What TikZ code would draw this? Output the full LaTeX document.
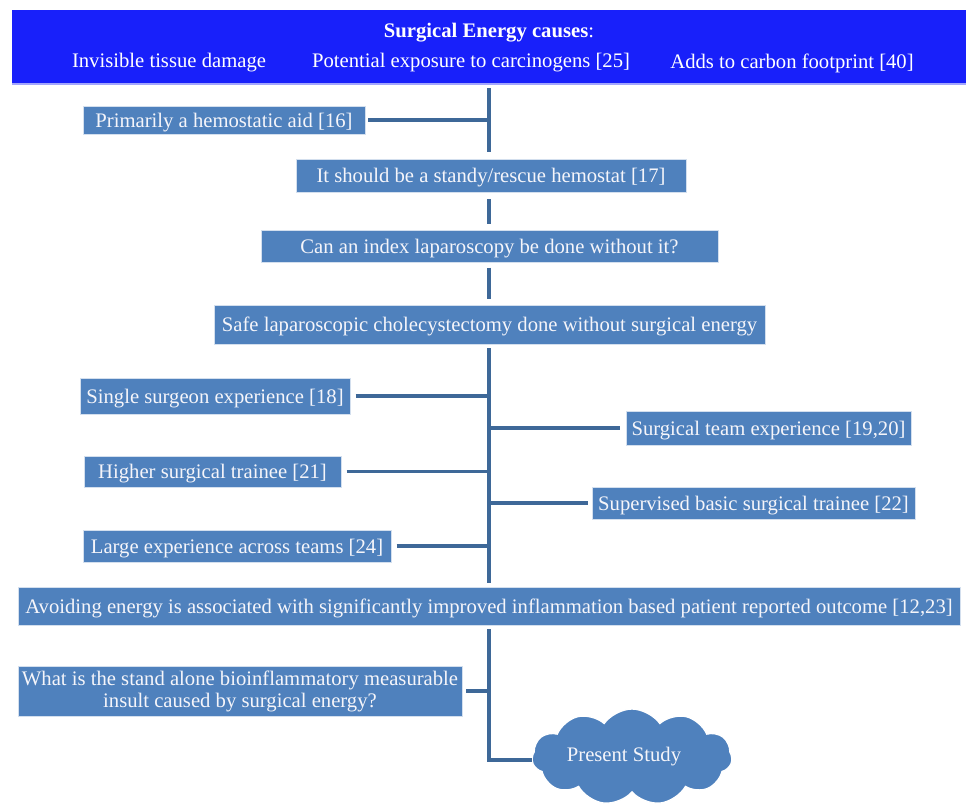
\documentclass[tikz,border=0pt]{standalone}
\usepackage{fontspec}
\setmainfont{Liberation Serif}
\usetikzlibrary{shapes.symbols}
\definecolor{boxblue}{RGB}{79,129,189}
\definecolor{bannerblue}{RGB}{24,32,250}
\definecolor{linkblue}{RGB}{62,104,152}
\definecolor{txt}{RGB}{245,245,250}
\begin{document}
\begin{tikzpicture}[x=0.75pt,y=-0.75pt,
  box/.style={fill=boxblue,draw=white!75!boxblue,line width=0.6pt,text=txt,inner sep=0pt,font=\fontsize{15.5}{18}\selectfont,align=center},
  ban/.style={text=white,font=\fontsize{15.5}{18}\selectfont},
  link/.style={draw=linkblue,line width=2.6pt}]
\useasboundingbox (0,0) rectangle (966,807);
\coordinate (t) at (489,0);
% banner
\node[fill=bannerblue,inner sep=0pt,minimum width=954*0.75pt,minimum height=74*0.75pt] (banner) at (489,47) {};
\draw[white!60!bannerblue,line width=1pt] (12,84) -- (966,84);
\node[ban] (title) at (489,33) {\textbf{Surgical Energy causes}:};
\node[ban] (c1) at (169,63) {Invisible tissue damage};
\node[ban] (c2) at (471,63) {Potential exposure to carcinogens [25]};
\node[ban] (c3) at (792,63) {Adds to carbon footprint [40]};
% main boxes
\node[box,minimum width=282*0.75pt,minimum height=28*0.75pt,text depth=0pt] (b1) at (224,120) {Primarily a hemostatic aid [16]};
\node[box,minimum width=390*0.75pt,minimum height=33*0.75pt,text depth=0pt] (b2) at (491,175.5) {It should be a standy/rescue hemostat [17]};
\node[box,minimum width=457*0.75pt,minimum height=32*0.75pt,text depth=0pt] (b3) at (489.5,246) {Can an index laparoscopy be done without it?};
\node[box,minimum width=551*0.75pt,minimum height=39*0.75pt,text depth=0pt] (b4) at (489.5,324.5) {Safe laparoscopic cholecystectomy done without surgical energy};
\node[box,minimum width=270*0.75pt,minimum height=36*0.75pt,text depth=0pt] (s1) at (215,396) {Single surgeon experience [18]};
\node[box,minimum width=285*0.75pt,minimum height=34*0.75pt,text depth=0pt] (s2) at (768.5,428) {Surgical team experience [19,20]};
\node[box,minimum width=257*0.75pt,minimum height=31*0.75pt,text depth=0pt] (s3) at (212.5,471.5) {Higher surgical trainee [21]};
\node[box,minimum width=323*0.75pt,minimum height=32*0.75pt,text depth=0pt] (s4) at (753.5,503) {Supervised basic surgical trainee [22]};
\node[box,minimum width=308*0.75pt,minimum height=32*0.75pt,text depth=0pt] (s5) at (237,546) {Large experience across teams [24]};
\node[box,minimum width=942*0.75pt,minimum height=38*0.75pt,text depth=0pt] (b5) at (489,606) {Avoiding energy is associated with significantly improved inflammation based patient reported outcome [12,23]};
\node[box,minimum width=444*0.75pt,minimum height=50*0.75pt,font=\fontsize{15.5}{16.5}\selectfont] (b6) at (240,691) {What is the stand alone bioinflammatory measurable\\insult caused by surgical energy?};
\node[cloud,cloud puffs=11,cloud puff arc=110,aspect=2.1,fill=boxblue,draw=white,line width=1pt,text=txt,font=\fontsize{15.5}{18}\selectfont,minimum width=200*0.75pt,minimum height=96*0.75pt,inner sep=0pt] (cl) at (632,757) {\hspace*{-12pt}Present Study};
% connectors
\draw[link,shorten <=3pt,shorten >=5pt] (banner.south -| t) -- (b2.north -| t);
\draw[link,shorten <=2pt] (b1.east) -- (b1.east -| t);
\draw[link,shorten <=5pt,shorten >=4pt] (b2.south -| t) -- (b3.north -| t);
\draw[link,shorten <=4pt,shorten >=4pt] (b3.south -| t) -- (b4.north -| t);
\draw[link,shorten <=3pt,shorten >=3pt] (b4.south -| t) -- (b5.north -| t);
\draw[link,shorten <=4pt] (s1.east) -- (s1.east -| t);
\draw[link,shorten >=4pt] (s2.west -| t) -- (s2.west);
\draw[link,shorten <=4pt] (s3.east) -- (s3.east -| t);
\draw[link,shorten >=3pt] (s4.west -| t) -- (s4.west);
\draw[link,shorten <=4pt] (s5.east) -- (s5.east -| t);
\draw[link,shorten <=3pt] (b6.east) -- (b6.east -| t);
\coordinate (k) at (489,760);
\draw[link,shorten <=3pt] (b5.south -| t) -- (k) -- (k -| cl.west);
\end{tikzpicture}
\end{document}
